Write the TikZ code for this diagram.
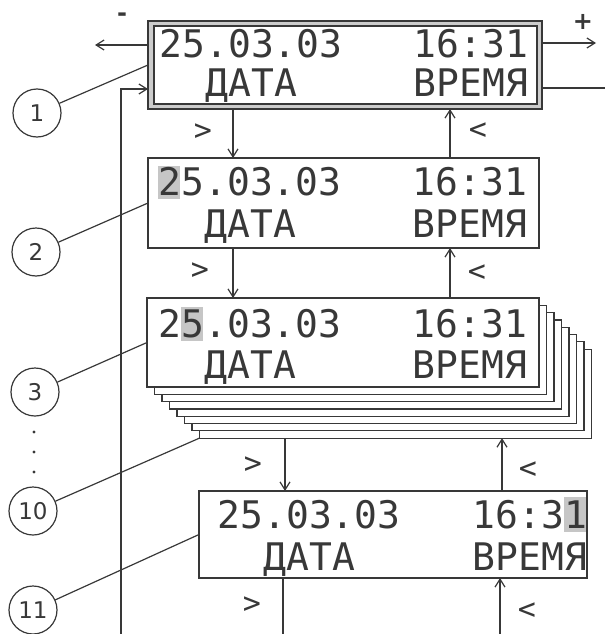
\documentclass[tikz,border=0pt]{standalone}
\usepackage{fontspec}
\usetikzlibrary{arrows.meta}
\newfontfamily\lcdfont{DejaVu Sans Mono}
\newfontfamily\numfont{DejaVu Sans}
\definecolor{ink}{gray}{0.22}

\begin{document}
\begin{tikzpicture}[x=1pt, y=-1pt, line width=1.2pt, draw=ink,
	every node/.style={text=ink},
	>={Straight Barb[length=8pt,width=10pt]},
	display/.style={draw=ink, fill=white, anchor=north west, inner sep=0pt, outer sep=0pt},
	lcdtext/.style={font=\lcdfont\fontsize{38}{38}\selectfont, anchor=base west, inner sep=0pt},
	callout/.style={circle, draw=ink, minimum size=48pt, inner sep=0pt, font=\numfont\fontsize{23}{23}\selectfont},
	keylbl/.style={font=\lcdfont\fontsize{30}{30}\selectfont, inner sep=0pt},
	signlbl/.style={font=\numfont\bfseries\fontsize{24}{24}\selectfont, inner sep=0pt},
	cursor/.style={fill=gray!45}]
	\useasboundingbox (0,0) rectangle (605,634);

	% display 1
	\node[display, fill=gray!40, minimum width=394pt, minimum height=88pt] (d1) at (148,21) {};
	\node[display, minimum width=383pt, minimum height=78pt] (d1in) at (154,26) {};
	\node[lcdtext] (date1) at (159,57) {25.03.03};
	\node[lcdtext] (time1) at (413,57) {16:31};
	\node[lcdtext] (datalbl1) at (205,96) {ДАТА};
	\node[lcdtext] (timelbl1) at (413,96) {ВРЕМЯ};

	% display 2
	\node[display, minimum width=391pt, minimum height=90pt] (d2) at (148,158) {};
	\fill[cursor] (158,166) rectangle (180,199);
	\node[lcdtext] (date2) at (158,195) {25.03.03};
	\node[lcdtext] (time2) at (412,195) {16:31};
	\node[lcdtext] (datalbl2) at (204,237) {ДАТА};
	\node[lcdtext] (timelbl2) at (412,237) {ВРЕМЯ};

	% display 3 with the stack behind it
	\foreach \k in {7,...,1}
		\node[display, minimum width=392pt, minimum height=89pt] (c\k) at (147+7.5*\k,298+7.3*\k) {};
	\node[display, minimum width=392pt, minimum height=89pt] (d3) at (147,298) {};
	\fill[cursor] (181,307) rectangle (203,341);
	\node[lcdtext] (date3) at (158,337) {25.03.03};
	\node[lcdtext] (time3) at (412,337) {16:31};
	\node[lcdtext] (datalbl3) at (204,378) {ДАТА};
	\node[lcdtext] (timelbl3) at (412,378) {ВРЕМЯ};

	% display 4
	\node[display, minimum width=388pt, minimum height=87pt] (d4) at (199,491) {};
	\fill[cursor] (564,497) rectangle (586,532);
	\node[lcdtext] (date4) at (217,528) {25.03.03};
	\node[lcdtext] (time4) at (472,528) {16:31};
	\node[lcdtext] (datalbl4) at (263,570) {ДАТА};
	\node[lcdtext] (timelbl4) at (472,570) {ВРЕМЯ};

	% - and + keys
	\coordinate (minusend) at (95,45);
	\coordinate (plusend) at (596,43);
	\draw[->] (d1.west |- minusend) -- (minusend);
	\draw[->] (d1.east |- plusend) -- (plusend);
	\node[signlbl] (minus) at (122,17) {-};
	\node[signlbl] (plus) at (583,22) {+};

	% > and < steps
	\draw[->] (d1.south -| 233,0) -- (d2.north -| 233,0);
	\draw[->] (d2.north -| 450,0) -- (d1.south -| 450,0);
	\draw[->] (d2.south -| 233,0) -- (d3.north -| 233,0);
	\draw[->] (d3.north -| 450,0) -- (d2.south -| 450,0);
	\draw[->] (c7.south -| 285,0) -- (d4.north -| 285,0);
	\draw[->] (d4.north -| 502,0) -- (c7.south -| 502,0);
	\coordinate (outdown) at (283,634);
	\coordinate (inup) at (500,634);
	\draw (d4.south -| outdown) -- (outdown);
	\draw[->] (inup) -- (d4.south -| inup);
	\node[keylbl] (next1) at (203,132) {>};
	\node[keylbl] (prev1) at (478,131) {<};
	\node[keylbl] (next2) at (200,271) {>};
	\node[keylbl] (prev2) at (477,273) {<};
	\node[keylbl] (next3) at (253,465) {>};
	\node[keylbl] (prev3) at (528,470) {<};
	\node[keylbl] (next4) at (252,605) {>};
	\node[keylbl] (prev4) at (527,611) {<};

	% return line and exit line
	\coordinate (loopin) at (121,634);
	\coordinate (loopout) at (605,88);
	\draw[->] (loopin) |- (d1.west |- 0,89);
	\draw (d1.east |- loopout) -- (loopout);

	% callouts
	\node[callout] (n1) at (37,113) {1};
	\node[callout] (n2) at (36,252) {2};
	\node[callout] (n3) at (35,392) {3};
	\node[callout] (n10) at (33,511) {10};
	\node[callout] (n11) at (33,610) {11};
	\draw (n1) -- (d1.west);
	\draw (n2) -- (d2.west);
	\draw (n3) -- (d3.west);
	\draw (n10) -- (c7.south west);
	\draw (n11) -- (d4.west);
	\foreach \y in {432,452,472}
		\fill[ink] (34,\y) circle (1.6pt);
\end{tikzpicture}
\end{document}
